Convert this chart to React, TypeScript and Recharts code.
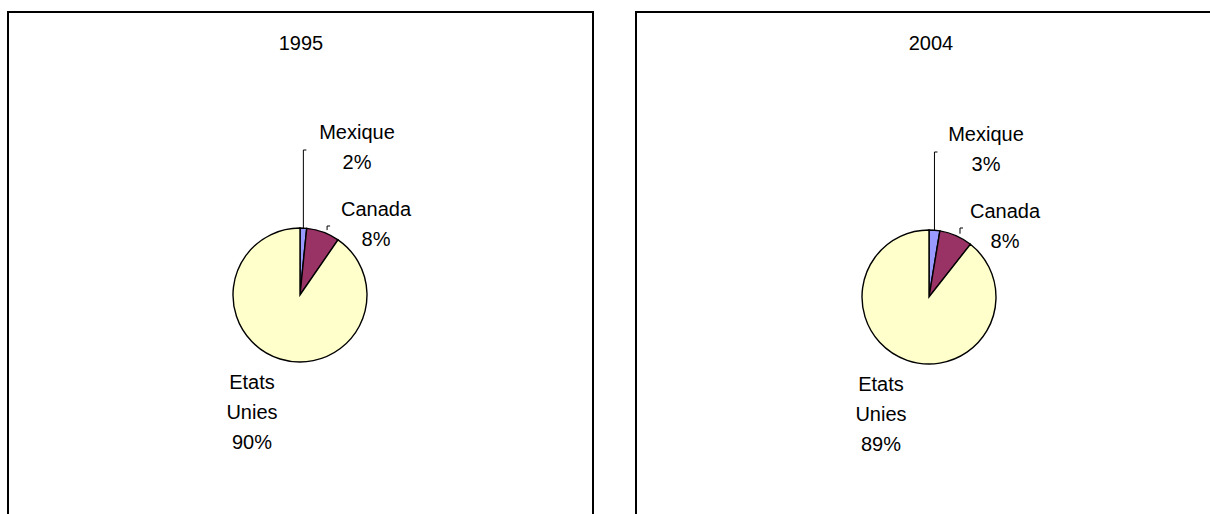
import { Cell, Pie, PieChart } from 'recharts'

const pays = ['Mexique', 'Canada', 'Etats Unies']
const parts1995 = [1.6, 8.0, 90.4]
const parts2004 = [2.6, 8.0, 89.4]
const annees = ['1995', '2004']

const couleurs = ['#9999FF', '#993366', '#FFFFCC']
const police = '"Liberation Sans", Arial, sans-serif'
const RADIAN = Math.PI / 180

// position des étiquettes par rapport au centre du camembert
const decalages: Record<string, { dx: number; dy: number }> = {
	Mexique: { dx: 57, dy: -156 },
	Canada: { dx: 76, dy: -79 },
	'Etats Unies': { dx: -48, dy: 94 },
}

const renderLabel = (props: any) => {
	const { cx, cy, midAngle, outerRadius, name, percent } = props
	const d = decalages[name]
	const lignes = [...name.split(' '), Math.round(percent * 100) + '%']
	const ex = cx + outerRadius * Math.cos(-midAngle * RADIAN)
	const ey = cy + outerRadius * Math.sin(-midAngle * RADIAN)
	let trait = null
	if (name === 'Mexique') {
		const top = cy - 145
		trait = <path d={`M${ex},${ey} L${ex},${top} L${ex + 3},${top}`} fill='none' stroke='#000' strokeWidth={1} />
	} else if (name === 'Canada') {
		const x = ex + 4
		const top = cy - outerRadius - 2
		trait = <path d={`M${x},${ey - 2} L${x},${top} L${x + 3},${top}`} fill='none' stroke='#000' strokeWidth={1} />
	}
	return (
		<g>
			{trait}
			{lignes.map((l, i) => (
				<text key={i} x={cx + d.dx} y={cy + d.dy + i * 30} textAnchor='middle' fill='#000' fontSize={20} fontFamily={police}>
					{l}
				</text>
			))}
		</g>
	)
}

const Camembert = ({ valeurs, cx, cy }: { valeurs: number[]; cx: number; cy: number }) => {
	const data = pays.map((p, i) => ({ name: p, value: valeurs[i] }))
	return (
		<PieChart width={605} height={514}>
			<Pie
				data={data}
				dataKey='value'
				nameKey='name'
				cx={cx}
				cy={cy}
				outerRadius={67}
				startAngle={90}
				endAngle={-270}
				stroke='#000'
				strokeWidth={1.4}
				label={renderLabel}
				labelLine={false}
				isAnimationActive={false}
			>
				{data.map((d, i) => (
					<Cell key={d.name} fill={couleurs[i]} />
				))}
			</Pie>
		</PieChart>
	)
}

const Titre = ({ texte, x }: { texte: string; x: number }) => (
	<div style={{ position: 'absolute', left: x - 50, top: 32, width: 100, textAlign: 'center', fontFamily: police, fontSize: 20, lineHeight: '23px' }}>
		{texte}
	</div>
)

export default function App() {
	return (
		<div style={{ position: 'absolute', left: 0, top: 0, width: 1210, height: 514, overflow: 'hidden', background: '#fff' }}>
			<div style={{ position: 'absolute', left: 7, top: 11, width: 587, height: 600, border: '2px solid #000', boxSizing: 'border-box' }} />
			<div style={{ position: 'absolute', left: 635, top: 11, width: 700, height: 600, border: '2px solid #000', boxSizing: 'border-box' }} />
			<div style={{ position: 'absolute', left: 0, top: 0 }}>
				<Camembert valeurs={parts1995} cx={295} cy={290} />
			</div>
			<div style={{ position: 'absolute', left: 605, top: 0 }}>
				<Camembert valeurs={parts2004} cx={319} cy={292} />
			</div>
			<Titre texte={annees[0]} x={301} />
			<Titre texte={annees[1]} x={931} />
		</div>
	)
}
